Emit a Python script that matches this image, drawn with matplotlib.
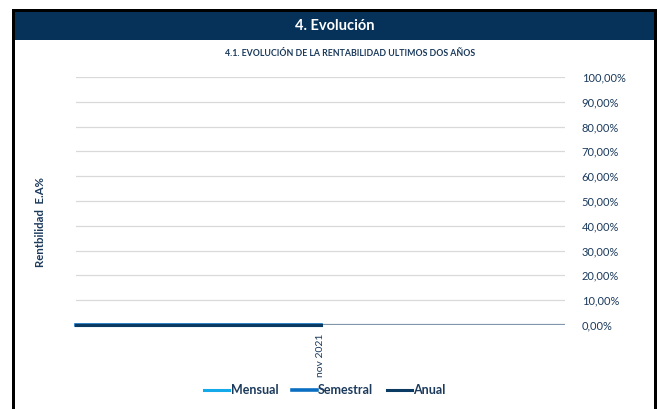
import matplotlib.pyplot as plt
from matplotlib.patches import Rectangle

# data
categories = ["", "nov 2021"]
cat_pos = [0, 1]
mensual = [0.0, 0.0]
semestral = [0.0, 0.0]
anual = [0.0, 0.0]
yticks = [0, 10, 20, 30, 40, 50, 60, 70, 80, 90, 100]

navy = '#06325a'
txt = '#1b3a5c'
plt.rcParams['font.family'] = ['Lato', 'DejaVu Sans']

W, H = 660, 409
fig = plt.figure(figsize=(6.6, 4.09), dpi=100)


def fx(px):
    return px / W


def fy(py):
    return 1 - py / H


# frame and header
fig.patches.append(Rectangle((fx(12), 0), fx(657) - fx(12), fy(9), transform=fig.transFigure,
                             facecolor='black', edgecolor='none', zorder=-2))
fig.patches.append(Rectangle((fx(15), 0), fx(654) - fx(15), fy(12), transform=fig.transFigure,
                             facecolor='white', edgecolor='none', zorder=-1))
fig.patches.append(Rectangle((fx(15), fy(40)), fx(654) - fx(15), fy(12) - fy(40),
                             transform=fig.transFigure, facecolor=navy, edgecolor='none', zorder=-1))
fig.text(fx(335), fy(26), "4. Evolución", color='white', fontsize=10.5, fontweight='bold',
         ha='center', va='center')
fig.text(fx(350), fy(53), "4.1. EVOLUCIÓN DE LA RENTABILIDAD ULTIMOS DOS AÑOS", color=txt,
         fontsize=6.3, fontweight='bold', ha='center', va='center')
fig.text(fx(40), fy(222), "Rentbilidad  E.A%", color=txt, fontsize=8.2, fontweight='bold',
         rotation=90, ha='center', va='center')

ax = fig.add_axes([fx(76), fy(325), fx(565) - fx(76), fy(77) - fy(325)])
ax.set_zorder(2)
ax.set_facecolor('none')
ax.set_xlim(0, 2)
ax.set_ylim(0, 100)
ax.set_yticks(yticks)
ax.set_yticklabels([f"{v},00%" for v in yticks], color=txt, fontsize=8)
ax.yaxis.tick_right()
ax.tick_params(axis='y', length=0, pad=12)
ax.set_xticks([cat_pos[1]])
ax.set_xticklabels([categories[1]], rotation=90, color=txt, fontsize=7.5)
ax.tick_params(axis='x', length=0, pad=6)
ax.grid(axis='y', color='#d9d9d9', linewidth=0.9)
for s in ax.spines.values():
    s.set_visible(False)
ax.axhline(0, color='#8096aa', linewidth=1.6, zorder=2)

ax.plot(cat_pos, [v * 100 for v in mensual], color='#14aaea', linewidth=2.2, label='Mensual',
        zorder=3, clip_on=False)
ax.plot(cat_pos, [v * 100 for v in semestral], color='#0a6fc2', linewidth=2.6, label='Semestral',
        zorder=4, clip_on=False)
ax.plot(cat_pos, [v * 100 for v in anual], color='#0b3a63', linewidth=2.2, label='Anual',
        zorder=5, clip_on=False)

leg = fig.legend(loc='center', bbox_to_anchor=(fx(325), fy(390)), ncol=3, frameon=False,
                 handlelength=2.0, handletextpad=0.1, columnspacing=1.1,
                 prop={'weight': 'bold', 'size': 9})
for t in leg.get_texts():
    t.set_color(txt)

fig.savefig('out.png', dpi=100)
